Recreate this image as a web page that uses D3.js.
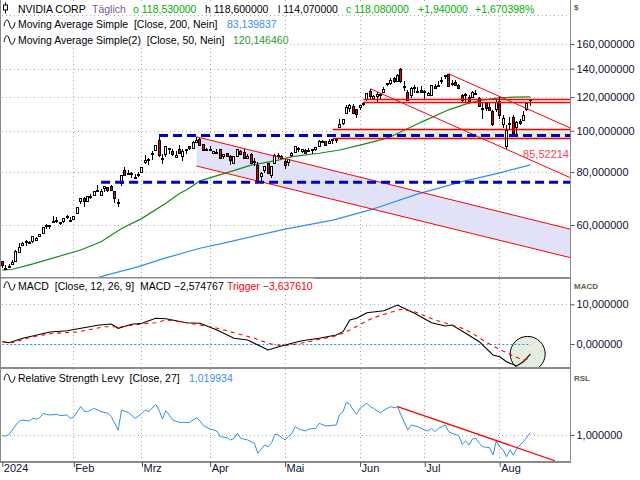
<!DOCTYPE html>
<html><head><meta charset="utf-8">
<script src="https://cdn.jsdelivr.net/npm/d3@7/dist/d3.min.js"></script>
<style>
body{margin:0;background:#fff;}
svg{display:block;font-family:"Liberation Sans",Arial,sans-serif;}
</style></head><body>
<svg id="c" width="640" height="480"></svg>
<script>
// ---------------- DATA ----------------
const dates = [
"2024-01-02","2024-01-03","2024-01-04","2024-01-05","2024-01-08","2024-01-09","2024-01-10","2024-01-11","2024-01-12","2024-01-16","2024-01-17","2024-01-18","2024-01-19","2024-01-22","2024-01-23","2024-01-24","2024-01-25","2024-01-26","2024-01-29","2024-01-30","2024-01-31",
"2024-02-01","2024-02-02","2024-02-05","2024-02-06","2024-02-07","2024-02-08","2024-02-09","2024-02-12","2024-02-13","2024-02-14","2024-02-15","2024-02-16","2024-02-20","2024-02-21","2024-02-22","2024-02-23","2024-02-26","2024-02-27","2024-02-28","2024-02-29",
"2024-03-01","2024-03-04","2024-03-05","2024-03-06","2024-03-07","2024-03-08","2024-03-11","2024-03-12","2024-03-13","2024-03-14","2024-03-15","2024-03-18","2024-03-19","2024-03-20","2024-03-21","2024-03-22","2024-03-25","2024-03-26","2024-03-27","2024-03-28",
"2024-04-01","2024-04-02","2024-04-03","2024-04-04","2024-04-05","2024-04-08","2024-04-09","2024-04-10","2024-04-11","2024-04-12","2024-04-15","2024-04-16","2024-04-17","2024-04-18","2024-04-19","2024-04-22","2024-04-23","2024-04-24","2024-04-25","2024-04-26","2024-04-29","2024-04-30",
"2024-05-01","2024-05-02","2024-05-03","2024-05-06","2024-05-07","2024-05-08","2024-05-09","2024-05-10","2024-05-13","2024-05-14","2024-05-15","2024-05-16","2024-05-17","2024-05-20","2024-05-21","2024-05-22","2024-05-23","2024-05-24","2024-05-28","2024-05-29","2024-05-30","2024-05-31",
"2024-06-03","2024-06-04","2024-06-05","2024-06-06","2024-06-07","2024-06-10","2024-06-11","2024-06-12","2024-06-13","2024-06-14","2024-06-17","2024-06-18","2024-06-20","2024-06-21","2024-06-24","2024-06-25","2024-06-26","2024-06-27","2024-06-28",
"2024-07-01","2024-07-02","2024-07-03","2024-07-05","2024-07-08","2024-07-09","2024-07-10","2024-07-11","2024-07-12","2024-07-15","2024-07-16","2024-07-17","2024-07-18","2024-07-19","2024-07-22","2024-07-23","2024-07-24","2024-07-25","2024-07-26","2024-07-29","2024-07-30","2024-07-31",
"2024-08-01","2024-08-02","2024-08-05","2024-08-06","2024-08-07","2024-08-08","2024-08-09","2024-08-12","2024-08-13","2024-08-14"];

const open = [49.24,47.49,47.77,48.46,49.51,51.85,53.69,54.90,54.62,55.01,55.57,56.62,57.66,59.86,59.80,60.94,61.74,60.90,61.27,62.87,61.36,
62.10,63.99,68.25,69.33,68.31,70.20,70.54,72.61,70.40,73.25,73.82,74.10,71.98,68.01,75.02,80.77,79.71,79.35,77.64,79.01,
80.00,84.18,85.25,88.07,90.16,95.14,86.42,88.00,91.06,89.55,86.96,90.36,86.75,89.87,92.30,91.12,93.95,95.85,93.05,90.01,
90.30,88.45,88.47,90.43,86.95,88.73,87.43,83.92,87.48,89.70,89.09,86.47,88.35,84.97,83.15,78.11,80.70,83.98,78.84,83.86,87.56,87.24,
85.01,84.52,87.78,89.29,91.13,89.49,90.16,90.33,90.44,90.38,92.29,94.35,94.36,93.77,94.72,95.40,102.03,104.45,110.24,113.05,114.65,112.52,
113.62,115.72,118.37,124.05,119.77,120.37,121.77,123.06,129.39,129.96,132.99,131.14,139.80,127.12,123.24,121.20,126.13,124.10,124.58,
123.47,121.13,121.66,127.38,127.49,130.35,134.03,135.75,128.26,130.56,128.44,121.35,121.85,120.35,120.35,122.78,119.17,113.04,116.19,113.69,111.52,112.90,
117.53,103.76,92.06,103.84,107.81,102.00,105.64,106.32,112.44,118.53];
const high = [49.30,48.18,48.50,49.55,52.27,54.33,54.60,55.35,54.97,56.40,56.37,57.17,59.50,60.33,59.88,62.83,62.70,61.09,62.44,63.49,62.81,
63.06,66.16,69.34,69.70,70.30,70.97,72.13,74.64,72.87,73.95,73.91,74.37,71.98,68.90,78.57,82.38,80.65,79.94,78.98,79.95,
82.30,87.69,86.08,89.74,92.72,97.40,87.96,91.94,91.27,90.48,89.47,92.39,90.59,90.37,92.30,94.75,96.76,96.37,93.25,91.30,
92.22,89.45,90.35,90.73,88.13,88.77,87.50,87.40,90.70,90.18,90.61,88.17,88.70,86.13,84.34,80.11,82.40,84.00,82.67,88.16,88.45,87.77,
86.02,85.82,89.22,92.25,91.78,90.49,90.36,91.29,90.49,91.38,94.90,95.12,94.81,95.42,95.40,96.00,106.32,106.48,114.94,115.49,115.82,112.72,
115.00,116.60,122.45,125.59,121.69,123.10,122.87,126.88,129.80,132.84,133.73,136.33,140.76,130.63,124.46,126.50,128.12,126.41,127.71,
124.84,123.41,128.28,128.85,130.77,133.82,135.10,136.15,131.92,131.39,129.04,121.85,122.40,121.60,124.07,124.69,119.95,116.63,116.20,116.28,111.99,118.34,
120.16,108.72,103.41,107.71,108.80,105.50,106.60,111.07,116.23,118.60];
const low = [47.60,47.32,47.51,48.31,49.48,51.69,53.52,53.58,54.33,54.37,55.11,56.22,57.23,58.66,58.84,60.62,60.80,60.02,60.79,62.15,61.10,
61.84,63.91,67.32,66.25,68.10,69.00,70.40,71.68,70.24,71.71,71.88,72.56,67.75,66.27,74.13,78.45,78.87,77.51,77.02,77.82,
79.44,83.70,83.00,85.54,89.58,86.65,83.38,86.86,88.25,87.11,86.10,88.20,85.00,88.25,90.20,90.87,93.88,92.52,89.92,89.62,
89.41,87.99,88.11,85.82,86.03,86.72,83.04,83.65,86.87,87.74,85.95,86.06,83.91,82.48,75.61,76.22,79.61,79.50,77.43,83.52,85.88,86.28,
81.25,82.70,86.95,89.20,89.03,88.72,88.09,89.25,88.18,89.82,91.81,93.37,92.40,93.45,93.01,93.50,101.53,103.00,109.88,110.90,109.66,106.94,
112.00,114.04,117.47,118.32,118.02,117.01,118.74,122.57,127.16,128.32,129.58,130.69,129.52,124.30,118.04,119.32,122.60,122.92,122.75,
118.83,121.03,121.36,125.68,127.04,128.65,132.42,127.05,127.22,127.18,125.86,116.72,116.56,117.37,119.86,122.10,113.44,106.30,111.58,111.30,102.54,110.88,
106.81,101.37,90.69,100.55,98.69,97.52,103.43,106.26,111.58,114.07];
const close = [48.17,47.57,48.00,49.10,52.25,53.14,54.35,54.82,54.70,56.38,56.05,57.11,59.49,59.63,59.88,61.34,61.63,61.04,62.44,62.77,61.53,
63.03,66.15,69.31,68.21,70.06,69.64,72.13,72.28,72.13,73.92,72.63,72.61,69.43,67.48,78.55,78.81,79.09,78.71,77.64,79.11,
82.28,85.21,85.94,88.70,92.67,87.53,85.76,91.90,90.88,87.94,87.84,88.44,89.37,90.36,91.42,94.26,95.00,92.56,90.25,90.36,
90.36,89.45,88.96,85.91,88.00,87.14,85.34,87.04,90.62,88.12,86.04,87.40,84.03,84.67,76.20,79.52,82.40,79.62,82.60,87.74,87.71,86.40,
83.04,85.82,88.79,92.14,90.55,90.41,88.75,89.87,90.39,91.36,94.63,94.36,92.48,94.78,95.39,94.95,103.80,106.47,113.90,114.83,110.50,109.63,
115.00,116.44,122.44,120.99,120.88,121.79,120.91,125.20,129.61,131.88,130.98,135.58,130.78,126.57,118.11,126.09,126.40,123.99,123.54,
124.30,122.67,128.28,125.83,128.20,131.38,134.91,127.40,129.24,128.44,126.36,117.99,121.09,117.93,123.54,122.59,114.25,112.28,113.06,111.59,103.73,117.02,
109.21,107.27,100.45,104.25,98.91,104.97,104.75,109.02,116.14,118.08];

// indicator values: [trading-day index, value]
const sma200 = [[28,45.1],[30,45.6],[40,47.9],[48,50.2],[58,52.9],[65,54.4],[83,58.7],[97,61.6],[108,65.1],[122,71.0],[135,75.9],[146,79.6],[155,83.139837]];
const sma50 = [[0,47.0],[3,47.2],[9,48.6],[23,52.4],[29,54.8],[35,58.9],[41,62.2],[48,67.5],[52,71.2],[54,72.5],[58,76.2],[67,80.1],[73,83.0],[81,85.3],[85,86.9],[93,88.5],[99,90.1],[105,92.5],[111,95.2],[114,96.8],[123,104.8],[131,112.0],[136,115.5],[140,117.8],[146,119.5],[150,120.0],[155,120.146460]];
const macd = [[0,0.58],[2,0.33],[6,1.44],[14,3.02],[19,3.35],[28,4.71],[32,5.04],[34,3.95],[38,4.96],[41,5.21],[45,6.47],[48,6.37],[54,5.37],[58,5.21],[63,3.53],[68,1.44],[72,1.01],[75,-0.25],[78,-1.51],[82,-0.50],[85,0.18],[88,0.83],[93,1.44],[98,2.27],[100,3.10],[102,6.05],[104,6.47],[107,7.88],[112,8.39],[116,9.82],[117,9.40],[121,7.73],[126,5.37],[130,4.53],[132,4.79],[136,2.70],[140,0.58],[144,-2.77],[146,-3.20],[148,-4.46],[151,-5.54],[153,-4.40],[155,-2.574767]];
const trigger = [[0,0.58],[3,0.33],[9,1.84],[15,2.70],[22,3.02],[30,4.36],[35,4.36],[41,5.04],[45,5.37],[48,6.05],[54,5.37],[62,4.21],[68,2.85],[74,1.44],[78,0.18],[82,-0.50],[85,-0.25],[91,0.76],[93,1.18],[97,1.84],[100,2.70],[103,3.95],[106,5.37],[109,6.62],[113,7.73],[117,8.74],[121,8.14],[127,6.05],[132,4.79],[135,3.95],[138,2.70],[141,1.01],[144,-0.50],[147,-1.76],[150,-3.02],[153,-4.03],[155,-3.637610]];
const rsl = [[0,0.995],[1,0.992],[2,1.005],[4,1.077],[5,1.108],[6,1.115],[8,1.108],[9,1.128],[10,1.121],[11,1.133],[12,1.167],[13,1.159],[14,1.154],[16,1.159],[17,1.149],[19,1.154],[20,1.128],[21,1.141],[23,1.218],[24,1.185],[25,1.179],[27,1.205],[29,1.179],[31,1.167],[32,1.141],[34,1.038],[35,1.192],[37,1.174],[39,1.128],[41,1.167],[42,1.192],[43,1.179],[45,1.236],[46,1.192],[47,1.123],[48,1.187],[49,1.154],[50,1.115],[52,1.097],[55,1.097],[57,1.133],[58,1.108],[59,1.072],[61,1.046],[63,1.031],[64,0.987],[66,0.979],[67,0.962],[68,0.974],[69,1.013],[70,0.974],[72,0.962],[74,0.936],[75,0.859],[77,0.923],[78,0.910],[79,0.936],[80,1.005],[81,1.000],[83,0.962],[85,1.013],[86,1.064],[87,1.046],[89,1.031],[90,1.046],[92,1.051],[93,1.090],[95,1.069],[98,1.077],[99,1.159],[100,1.179],[101,1.251],[102,1.236],[103,1.192],[104,1.159],[105,1.205],[107,1.244],[108,1.218],[109,1.205],[111,1.167],[112,1.192],[114,1.218],[115,1.210],[116,1.218],[117,1.154],[119,1.038],[120,1.077],[122,1.064],[124,1.038],[125,1.031],[126,1.051],[127,1.026],[128,1.051],[130,1.077],[131,1.026],[132,1.013],[134,0.995],[135,0.928],[136,0.954],[137,0.923],[138,0.969],[139,0.974],[140,0.936],[141,0.910],[143,0.903],[144,0.846],[145,0.954],[146,0.910],[147,0.885],[148,0.833],[149,0.885],[150,0.846],[151,0.897],[153,0.949],[155,1.019934]];

// drawings (index, price)
const channelUpper = [[57,96.76],[166.6,58.7]];
const channelLower = [[57,82.6],[166.6,50.3]];
const trendA = [[108,125.59],[166.6,77.6]];
const trendB = [[131,136.15],[166.6,101.6]];
const redLevels = [119.0,117.0];      const redLevelsStart = 106;
const greenBand = [100.75,95.95];     const greenBandStart = 97;
const blueLevels = [[46,97.40],[29,75.61]];
const trendLabel = 85.52214;
const rslTrend = [[116,1.218],[162.2,0.802]];
const macdCircle = {index:154.2, value:-2.5};

const priceTicks = [60,80,100,120,140,160];
const macdTicks = [0,10];
const rslTicks = [1];
const monthLabels = ["2024","Feb","Mrz","Apr","Mai","Jun","Jul","Aug"];

// ---------------- SETUP ----------------
const svg = d3.select("#c");
const de = v => d3.format(".6f")(v).replace(".", ",");
const deS = v => d3.format("+.6f")(v).replace(".", ",");
const x = d3.scaleLinear().domain([0,155]).range([2.3,530.4]);
const yP = d3.scaleLog().domain([60,160]).range([225,44]);
const yM = d3.scaleLinear().domain([0,10]).range([344,304.3]);
const yR = d3.scaleLinear().domain([1,1.2]).range([435,409]);
const AX = 570;
const panels = {P:[0,277], M:[279,367], R:[369,461]};
const GRID = "#a8a8a8";

const defs = svg.append("defs");
Object.entries(panels).forEach(([k,[t,b]])=>{
  defs.append("clipPath").attr("id","clip"+k).append("rect").attr("x",1).attr("y",t).attr("width",AX-1).attr("height",b-t);
});

// month start indices
const monthStarts = [];
dates.forEach((d,i)=>{ if(i===0 || d.slice(5,7)!==dates[i-1].slice(5,7)) monthStarts.push(i); });
const cx = i => Math.floor(x(i))+0.5;

// grid
Object.entries(panels).forEach(([k,[t,b]])=>{
  const g = svg.append("g");
  monthStarts.slice(1).forEach(i=>{
    g.append("line").attr("x1",cx(i)).attr("x2",cx(i)).attr("y1",t).attr("y2",b)
      .attr("stroke",GRID).attr("stroke-dasharray","1,3");
  });
  const ys = k==="P" ? priceTicks.map(v=>yP(v)).concat([15]) : k==="M" ? [yM(10)] : rslTicks.map(v=>yR(v));
  ys.forEach(yy=>{
    g.append("line").attr("x1",2).attr("x2",AX).attr("y1",Math.round(yy)+0.5).attr("y2",Math.round(yy)+0.5)
      .attr("stroke",GRID).attr("stroke-dasharray","1,3");
  });
});

// ---------------- PRICE PANEL ----------------
const gP = svg.append("g").attr("clip-path","url(#clipP)");
const pl = d3.line().x(d=>x(d[0])).y(d=>yP(d[1]));

// channel fill
const chArea = d3.area().x(d=>x(d[0])).y0(d=>yP(d[2])).y1(d=>yP(d[1]));
gP.append("path").datum([[channelUpper[0][0],channelUpper[0][1],channelLower[0][1]],[channelUpper[1][0],channelUpper[1][1],channelLower[1][1]]])
  .attr("d",chArea).attr("fill","#e1e1f8");
// green band
gP.append("rect").attr("x",x(greenBandStart)).attr("width",AX-x(greenBandStart))
  .attr("y",yP(greenBand[0])).attr("height",yP(greenBand[1])-yP(greenBand[0])).attr("fill","#e2f0e0");

// moving averages
gP.append("path").datum(sma200).attr("d",pl).attr("fill","none").attr("stroke","#2f8ff0").attr("stroke-width",1.2);
gP.append("path").datum(sma50).attr("d",pl).attr("fill","none").attr("stroke","#1a8a1a").attr("stroke-width",1.2);

// candles
const gC = gP.append("g").attr("shape-rendering","crispEdges");
dates.forEach((d,i)=>{
  const px = cx(i);
  gC.append("line").attr("x1",px).attr("x2",px).attr("y1",Math.round(yP(high[i]))).attr("y2",Math.round(yP(low[i])))
    .attr("stroke","#000");
  const yo = yP(open[i]), yc = yP(close[i]);
  const top = Math.round(Math.min(yo,yc)), h = Math.max(1,Math.round(Math.abs(yo-yc)));
  gC.append("rect").attr("x",px-1).attr("width",2).attr("y",top+0.5).attr("height",h)
    .attr("fill", close[i]<open[i] ? "#e00000" : "#fff").attr("stroke","#000");
});

// red drawings
[channelUpper, channelLower, trendA, trendB].forEach(l=>{
  gP.append("path").datum(l).attr("d",pl).attr("fill","none").attr("stroke","#ff0000").attr("stroke-width",1);
});
redLevels.forEach(v=>{
  gP.append("line").attr("x1",x(redLevelsStart)).attr("x2",AX).attr("y1",Math.round(yP(v))+0.5).attr("y2",Math.round(yP(v))+0.5)
    .attr("stroke","#ff0000").attr("stroke-width",1.3);
});
greenBand.forEach(v=>{
  gP.append("line").attr("x1",x(greenBandStart)).attr("x2",AX).attr("y1",Math.round(yP(v))+0.5).attr("y2",Math.round(yP(v))+0.5)
    .attr("stroke","#ff0000").attr("stroke-width",1.3);
});
blueLevels.forEach(([i,v])=>{
  gP.append("line").attr("x1",x(i)).attr("x2",AX).attr("y1",yP(v)).attr("y2",yP(v))
    .attr("stroke","#0000c8").attr("stroke-width",3).attr("stroke-dasharray","9,5");
});
gP.append("text").attr("x",AX-1).attr("y",yP(trendLabel)-2).attr("text-anchor","end")
  .attr("font-size","11px").attr("fill","#ff3a55").text(de(trendLabel).slice(0,8));

// ---------------- MACD PANEL ----------------
const gM = svg.append("g").attr("clip-path","url(#clipM)");
const ml = d3.line().x(d=>x(d[0])).y(d=>yM(d[1]));
gM.append("circle").attr("cx",x(macdCircle.index)).attr("cy",yM(macdCircle.value)).attr("r",17.5)
  .attr("fill","#e3eee0").attr("stroke","#000").attr("stroke-width",1);
gM.append("line").attr("x1",x(0)).attr("x2",x(155)).attr("y1",Math.round(yM(0))+0.5).attr("y2",Math.round(yM(0))+0.5)
  .attr("stroke","#1e90ff").attr("stroke-dasharray","2,2");
gM.append("path").datum(macd).attr("d",ml).attr("fill","none").attr("stroke","#000").attr("stroke-width",1.1);
gM.append("path").datum(trigger).attr("d",ml).attr("fill","none").attr("stroke","#ff0000").attr("stroke-width",1.1).attr("stroke-dasharray","4,4");

// ---------------- RSL PANEL ----------------
const gR = svg.append("g").attr("clip-path","url(#clipR)");
const rl = d3.line().x(d=>x(d[0])).y(d=>yR(d[1]));
gR.append("path").datum(rsl).attr("d",rl).attr("fill","none").attr("stroke","#2f8ff0").attr("stroke-width",1);
gR.append("path").datum(rslTrend).attr("d",rl).attr("fill","none").attr("stroke","#ff0000").attr("stroke-width",1.3);

// ---------------- FRAME ----------------
const frame = svg.append("g").attr("shape-rendering","crispEdges");
frame.append("rect").attr("x",0).attr("y",0).attr("width",1).attr("height",463).attr("fill","#8a8a8a");
frame.append("rect").attr("x",AX).attr("y",0).attr("width",1).attr("height",463).attr("fill","#8a8a8a");
[277,367,461].forEach(yy=>frame.append("rect").attr("x",0).attr("y",yy).attr("width",AX+1).attr("height",2).attr("fill","#8a8a8a"));

// right axes
function rightAxis(scale, ticks, fmt){
  const g = svg.append("g").attr("transform",`translate(${AX+0.5},0)`)
    .call(d3.axisRight(scale).tickValues(ticks).tickSize(4).tickPadding(2).tickFormat(fmt));
  g.select(".domain").remove();
  g.selectAll(".tick line").attr("stroke","#555");
  g.selectAll("text").attr("font-size","11px").attr("fill","#101030").attr("font-family","Liberation Sans, Arial, sans-serif");
  return g;
}
rightAxis(yP, priceTicks, de);
rightAxis(yM, macdTicks, de);
rightAxis(yR, rslTicks, de);
[["$",10],["MACD",289],["RSL",381]].forEach(([t,yy])=>{
  svg.append("text").attr("x",574).attr("y",yy).attr("font-size","8px").attr("font-weight","bold")
    .attr("fill","#6b5a48").text(t);
});

// bottom month axis
const gx = svg.append("g").attr("transform","translate(0,462)")
  .call(d3.axisBottom(x).tickValues(monthStarts).tickSize(5).tickFormat((d,i)=>monthLabels[i]));
gx.select(".domain").remove();
gx.selectAll(".tick line").attr("stroke","#555");
gx.selectAll("text").attr("text-anchor","start").attr("dx","1").attr("dy","0.2em")
  .attr("font-size","11px").attr("fill","#101030").attr("font-family","Liberation Sans, Arial, sans-serif");

// ---------------- LEGENDS ----------------
function legend(baseline, parts, icon){
  const g = svg.append("g");
  const bg = g.append("rect").attr("fill","#fff");
  if(icon==="candle"){
    g.append("line").attr("x1",5.5).attr("x2",5.5).attr("y1",baseline-10).attr("y2",baseline+1).attr("stroke","#000");
    g.append("rect").attr("x",3.5).attr("y",baseline-7.5).attr("width",4).attr("height",5).attr("fill","#fff").attr("stroke","#000");
  } else {
    const b = baseline-4;
    g.append("path").attr("d",`M4,${b+2} C5.5,${b-6} 8,${b-6} 9.5,${b} C11,${b+6} 13.5,${b+6} 15,${b-2}`)
      .attr("fill","none").attr("stroke","#000").attr("stroke-width",1);
  }
  parts.forEach(p=>{
    g.append("text").attr("x",p.x).attr("y",baseline).attr("font-size","10.5px").attr("fill",p.c)
      .attr("xml:space","preserve").style("white-space","pre").text(p.t);
  });
  const bb = g.node().getBBox();
  bg.attr("x",2).attr("y",baseline-11.5).attr("width",bb.x+bb.width-1).attr("height",14);
}
const n = close.length-1;
legend(12.5,[
  {t:"NVIDIA CORP",x:18,c:"#000"},
  {t:"Täglich",x:92,c:"#7a5a8a"},
  {t:"o "+de(open[n]),x:133,c:"#00b000"},
  {t:"h "+de(high[n]),x:205,c:"#000"},
  {t:"l "+de(low[n]),x:278,c:"#000"},
  {t:"c "+de(close[n]),x:346,c:"#00b000"},
  {t:deS(close[n]-close[n-1]),x:418,c:"#00b000"},
  {t:deS((close[n]-close[n-1])/close[n-1]*100)+"%",x:475,c:"#00b000"}
],"candle");
legend(28.2,[
  {t:"Moving Average Simple  [Close, 200, Nein]",x:18,c:"#000"},
  {t:de(sma200[sma200.length-1][1]),x:227,c:"#3a8fe8"}
],"wave");
legend(44,[
  {t:"Moving Average Simple(2)  [Close, 50, Nein]",x:18,c:"#000"},
  {t:de(sma50[sma50.length-1][1]),x:233,c:"#2a9a2a"}
],"wave");
legend(290,[
  {t:"MACD  [Close, 12, 26, 9]  MACD "+de(macd[macd.length-1][1]),x:18,c:"#000"},
  {t:"Trigger "+de(trigger[trigger.length-1][1]),x:227,c:"#ff0000"}
],"wave");
legend(382.3,[
  {t:"Relative Strength Levy  [Close, 27]",x:18,c:"#000"},
  {t:de(rsl[rsl.length-1][1]),x:189,c:"#3a8fe8"}
],"wave");
</script>
</body></html>
